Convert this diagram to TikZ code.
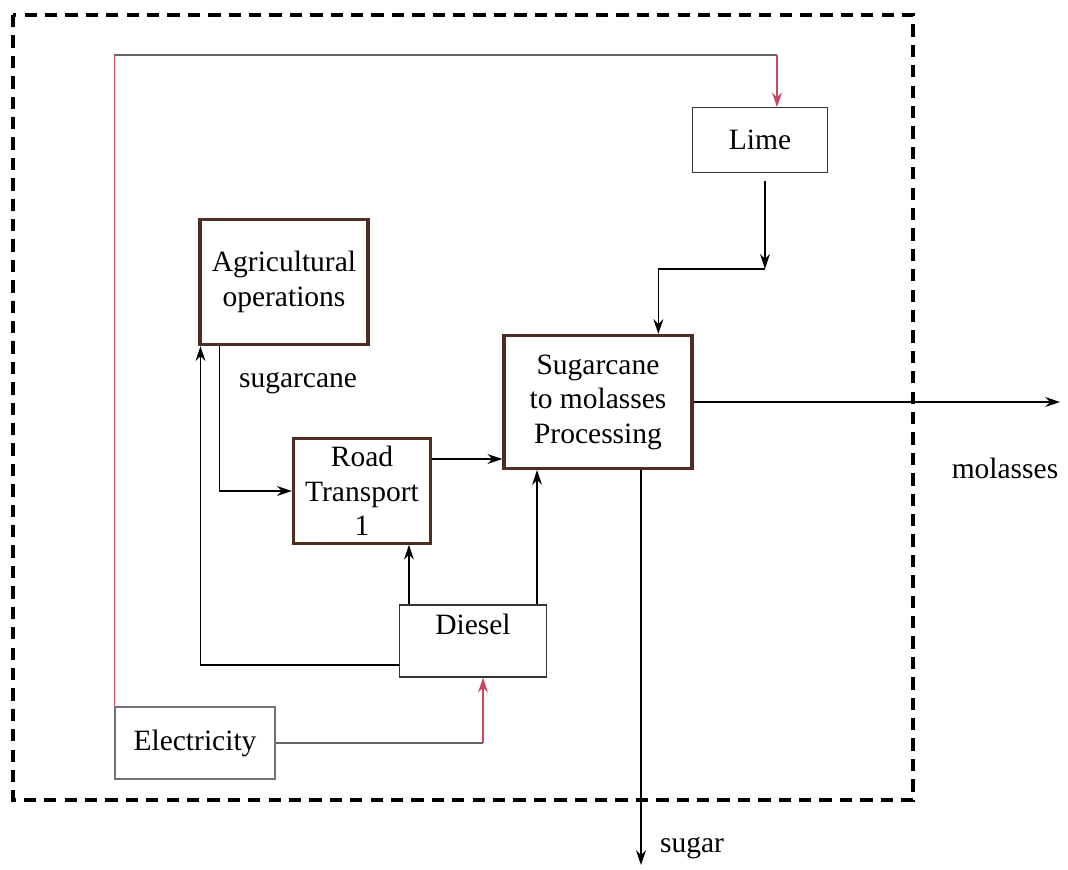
\documentclass[tikz,border=0pt]{standalone}
\usepackage{fontspec}
\setmainfont{Liberation Serif}
\usepackage{xcolor}
\usepackage{tikz}
\usetikzlibrary{arrows.meta,positioning,calc}
\definecolor{boxbrown}{RGB}{80,45,35}
\definecolor{elred}{RGB}{205,70,95}

\begin{document}
\begin{tikzpicture}[x=0.0143cm,y=-0.0143cm,
  font=\fontsize{12pt}{14pt}\selectfont,
  unit/.style={draw=boxbrown,line width=1.3pt,align=center,inner sep=1pt},
  src/.style={draw=black!80,line width=0.5pt,align=center,inner sep=1pt},
  arr/.style={-{Stealth[length=6pt,width=4pt]},semithick,black},
  elline/.style={elred,line width=0.5pt},
  elarr/.style={-{Stealth[length=6pt,width=4pt]},elred,line width=0.5pt},
  lbl/.style={inner sep=1pt}
]
\useasboundingbox (0,0) rectangle (1068,869);

% system boundary
\draw[line width=1.3pt,dash pattern=on 5pt off 3.3pt] (13,15) rectangle (913,800);

% process and input boxes at fixed positions
\node[src,minimum width=1.94cm,minimum height=0.92cm]  (lime)   at (760,140) {Lime};
\node[unit,minimum width=2.40cm,minimum height=1.79cm] (agri)   at (284,282) {Agricultural\\operations};
\node[unit,minimum width=2.69cm,minimum height=1.90cm] (proc)   at (598,402) {Sugarcane\\to molasses\\Processing};
\node[unit,minimum width=1.96cm,minimum height=1.49cm] (road)   at (362,491) {Road\\Transport\\1};
\node[src,minimum width=2.10cm,minimum height=1.03cm]  (diesel) at (473,641) {Diesel\\\mbox{}};
\node[src,draw=black!55,minimum width=2.29cm,minimum height=1.03cm] (elec) at (195,743) {Electricity};

% flow labels
\node[lbl] (lblcane) at (298,383) {sugarcane};
\node[lbl] (lblmol)  at (1005,468) {molasses};
\node[lbl] (lblsug)  at (692,848) {sugar};

% helper points
\coordinate (top)      at (0,55);
\coordinate (limein)   at ($(lime.north)+(17,0)$);
\coordinate (limeout)  at ($(lime.south)+(5,8)$);
\coordinate (limejoin) at ($(lime.south)+(5,96)$);
\coordinate (procin)   at ($(proc.north west)+(156,0)$);
\coordinate (roadout)  at ($(road.east)+(0,-32)$);
\coordinate (dieselin) at ($(diesel.south)+(10,0)$);
\coordinate (d1)       at ($(diesel.north west)+(10,0)$);
\coordinate (d2)       at ($(diesel.north east)+(-10,0)$);
\coordinate (molout)   at (1060,407);
\coordinate (sugout)   at (641,865);

% electricity supply
\draw[elline] (elec.north west) -- (elec.north west |- top);
\draw[black!60,line width=0.5pt] (elec.north west |- top) -- (limein |- top);
\draw[elarr] (limein |- top) -- (limein);
\draw[black!60,line width=0.5pt] (elec.east) -- (elec.east -| dieselin);
\draw[elarr] (elec.east -| dieselin) -- (dieselin);

% lime to processing
\draw[arr] (limeout) -- (limejoin);
\draw[arr] (limejoin) -| (procin);

% sugarcane chain
\draw[arr] ($(agri.south west)+(21,0)$) |- (road.west);
\draw[arr] (roadout) -- (roadout -| proc.west);

% diesel supply
\draw[arr] ($(diesel.west)+(0,24)$) -| ($(agri.south west)+(2,0)$);
\draw[arr] (d1) -- (d1 |- road.south);
\draw[arr] (d2) -- (d2 |- proc.south);

% products
\draw[arr] (proc.east) -- (proc.east -| molout);
\draw[arr] (proc.south -| sugout) -- (sugout);
\end{tikzpicture}
\end{document}
